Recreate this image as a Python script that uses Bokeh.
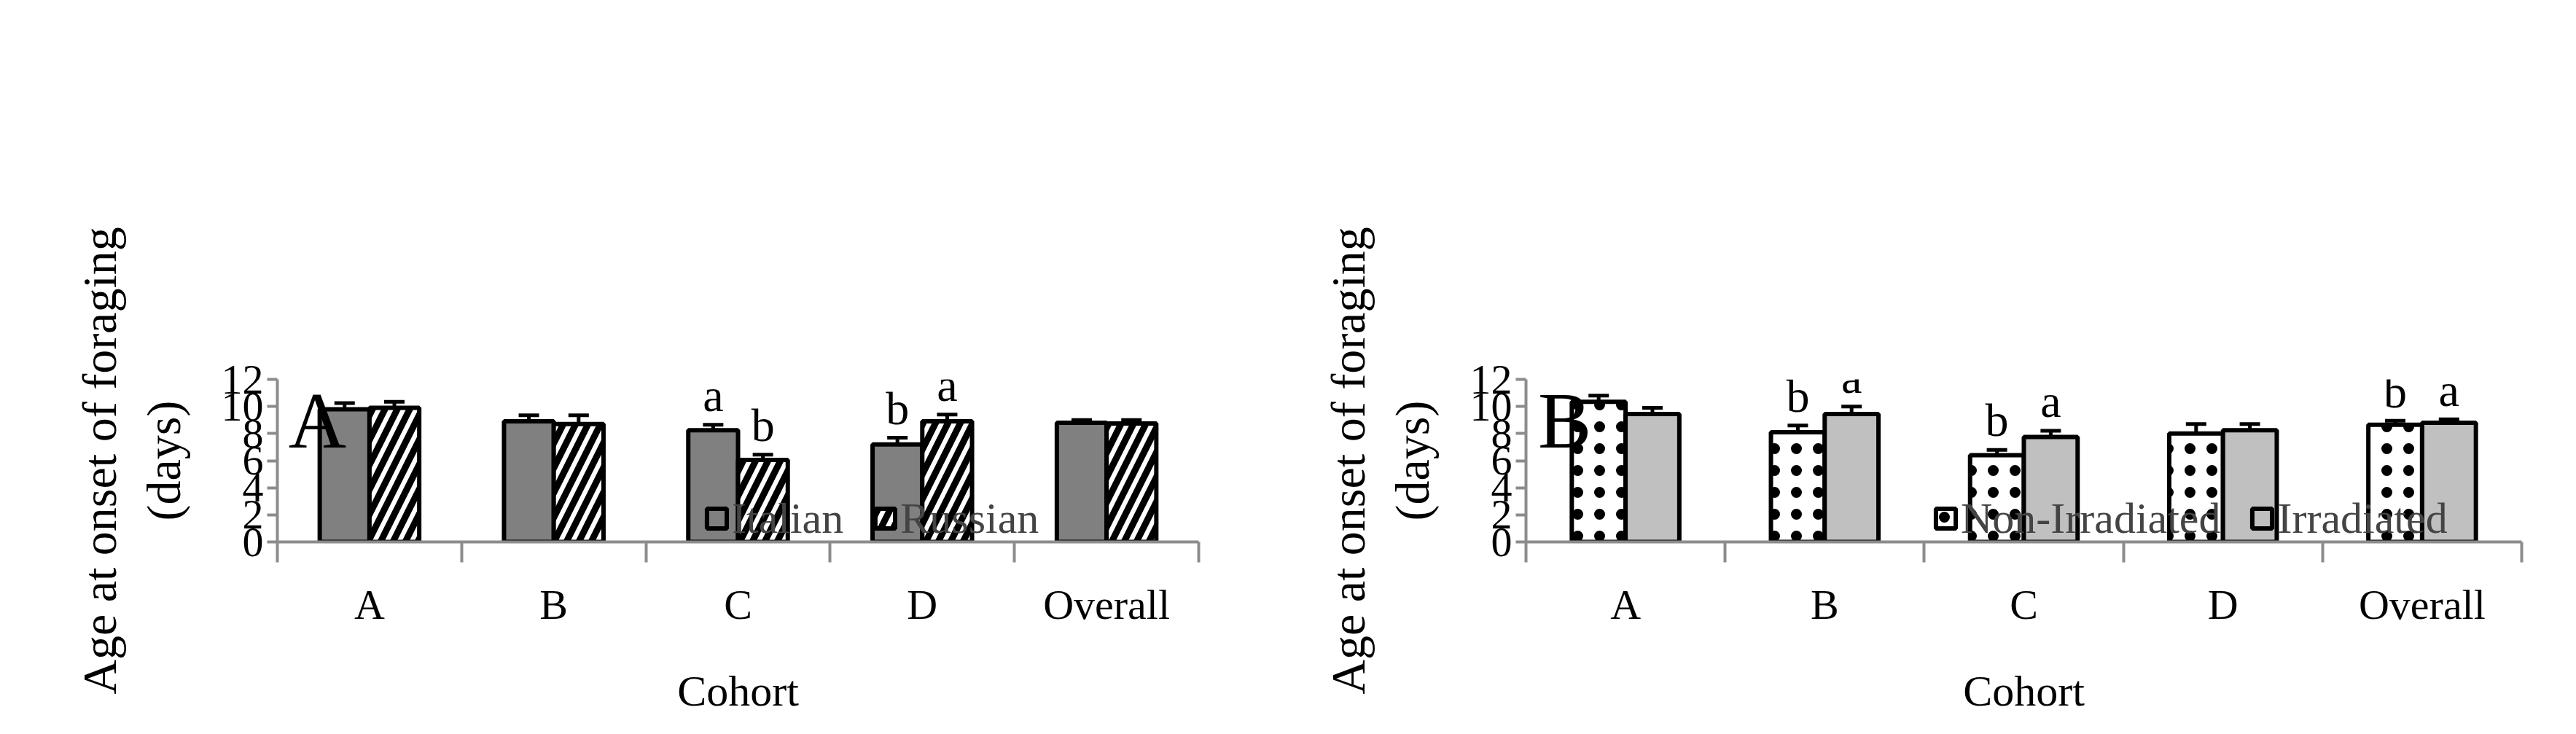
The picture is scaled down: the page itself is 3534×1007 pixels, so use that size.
from bokeh.plotting import figure
from bokeh.models import (ColumnDataSource, Whisker, FixedTicker, LinearAxis, Range1d,
                          Legend, LegendItem, TeeHead)
from bokeh.layouts import row
from bokeh.embed import file_html
from bokeh.resources import INLINE
from bokeh.core.properties import value

cohorts = ["A", "B", "C", "D", "Overall"]
italian = [9.8, 8.9, 8.25, 7.2, 8.8]
italian_top = [10.25, 9.35, 8.65, 7.7, 9.0]
russian = [9.9, 8.7, 6.05, 8.9, 8.75]
russian_top = [10.35, 9.35, 6.45, 9.4, 9.0]
italian_lbl = ["", "", "a", "b", ""]
russian_lbl = ["", "", "b", "a", ""]

nonirr = [10.35, 8.1, 6.4, 8.0, 8.65]
nonirr_top = [10.8, 8.6, 6.8, 8.7, 8.95]
irr = [9.45, 9.45, 7.75, 8.25, 8.8]
irr_top = [9.9, 10.0, 8.2, 8.7, 9.05]
nonirr_lbl = ["", "b", "b", "", "b"]
irr_lbl = ["", "a", "a", "", "a"]

FONT = "Liberation Serif"
BW = 0.27


def panel(letter, names, vals, tops, lbls, styles, left, right, legend_x):
    p = figure(width=1759, height=990, output_backend="svg", toolbar_location=None,
               x_range=Range1d(0, 5), y_range=Range1d(0, 12),
               min_border_left=left, min_border_right=right,
               min_border_top=98, min_border_bottom=247)
    p.grid.visible = False
    p.outline_line_color = None
    items = []
    for k in range(2):
        xs = [i + 0.5 + (k - 0.5) * BW for i in range(5)]
        src = ColumnDataSource(dict(x=xs, top=vals[k], up=tops[k], lbl=lbls[k],
                                    ly=[t + 0.25 for t in tops[k]]))
        st = styles[k]
        r = p.vbar(x="x", top="top", width=BW, source=src, fill_color=st["fill"],
                   line_color="black", line_width=6,
                   hatch_pattern=st.get("hatch"), hatch_color="black",
                   hatch_scale=st.get("hscale", 12), hatch_weight=st.get("hweight", 1))
        items.append(LegendItem(label=names[k], renderers=[r]))
        w = Whisker(base="x", lower="top", upper="up", source=src,
                    line_color="black", line_width=5,
                    upper_head=TeeHead(size=28, line_width=5, line_color="black"),
                    lower_head=None)
        p.add_layout(w)
        p.text(x="x", y="ly", text="lbl", source=src, text_align="center",
               text_baseline="bottom", text_font=value(FONT), text_font_size="64px",
               text_color="black")
    p.text(x=[0.06], y=[12.25], text=[letter], text_baseline="top",
           text_font=value(FONT), text_font_size="110px", text_color="black")

    p.yaxis.ticker = FixedTicker(ticks=list(range(0, 13, 2)))
    p.xaxis.ticker = FixedTicker(ticks=[0, 1, 2, 3, 4, 5])
    p.xaxis.major_label_overrides = {i: " " for i in range(6)}
    p.xaxis.major_label_text_font_size = "10px"
    p.xaxis.major_tick_in = 0
    p.xaxis.major_tick_out = 28
    p.xaxis.minor_tick_line_color = None
    p.yaxis.minor_tick_line_color = None
    p.yaxis.major_tick_in = 0
    p.yaxis.major_tick_out = 14
    for ax in (p.xaxis[0], p.yaxis[0]):
        ax.axis_line_color = "#8c8c8c"
        ax.axis_line_width = 4
        ax.major_tick_line_color = "#8c8c8c"
        ax.major_tick_line_width = 4
    p.yaxis.major_label_text_font = FONT
    p.yaxis.major_label_text_font_size = "58px"
    p.yaxis.major_label_text_color = "black"
    p.yaxis.axis_label = "Age at onset of foraging\n(days)"
    p.yaxis.axis_label_text_font = FONT
    p.yaxis.axis_label_text_font_size = "66px"
    p.yaxis.axis_label_text_font_style = "normal"
    p.yaxis.axis_label_text_color = "black"
    p.yaxis.axis_label_standoff = 40

    cat = LinearAxis(ticker=FixedTicker(ticks=[i + 0.5 for i in range(5)]),
                     major_label_overrides={i + 0.5: c for i, c in enumerate(cohorts)})
    cat.axis_line_color = None
    cat.major_tick_line_color = None
    cat.minor_tick_line_color = None
    cat.major_label_text_font = FONT
    cat.major_label_text_font_size = "58px"
    cat.major_label_text_color = "black"
    cat.major_label_standoff = 0
    cat.axis_label = "Cohort"
    cat.axis_label_text_font = FONT
    cat.axis_label_text_font_size = "60px"
    cat.axis_label_text_font_style = "normal"
    cat.axis_label_text_color = "black"
    cat.axis_label_standoff = 50
    p.add_layout(cat, "below")

    leg = Legend(items=items, orientation="horizontal", location=(legend_x, 0),
                 label_text_font=FONT, label_text_font_size="60px",
                 glyph_width=34, glyph_height=34, spacing=40, label_standoff=4,
                 background_fill_alpha=0, border_line_color=None, padding=0, margin=10)
    p.add_layout(leg, "above")
    return p


pa = panel("A", ["Italian", "Russian"], [italian, russian], [italian_top, russian_top],
           [italian_lbl, russian_lbl],
           [dict(fill="#808080"), dict(fill="white", hatch="/", hscale=34, hweight=9)],
           380, 115, 586)
pb = panel("B", ["Non-Irradiated", "Irradiated"], [nonirr, irr], [nonirr_top, irr_top],
           [nonirr_lbl, irr_lbl],
           [dict(fill="white", hatch=".", hscale=30, hweight=5), dict(fill="#c0c0c0")],
           334, 59, 559)
layout = row(pa, pb, spacing=0)
open("out.html", "w").write(file_html(layout, INLINE))
